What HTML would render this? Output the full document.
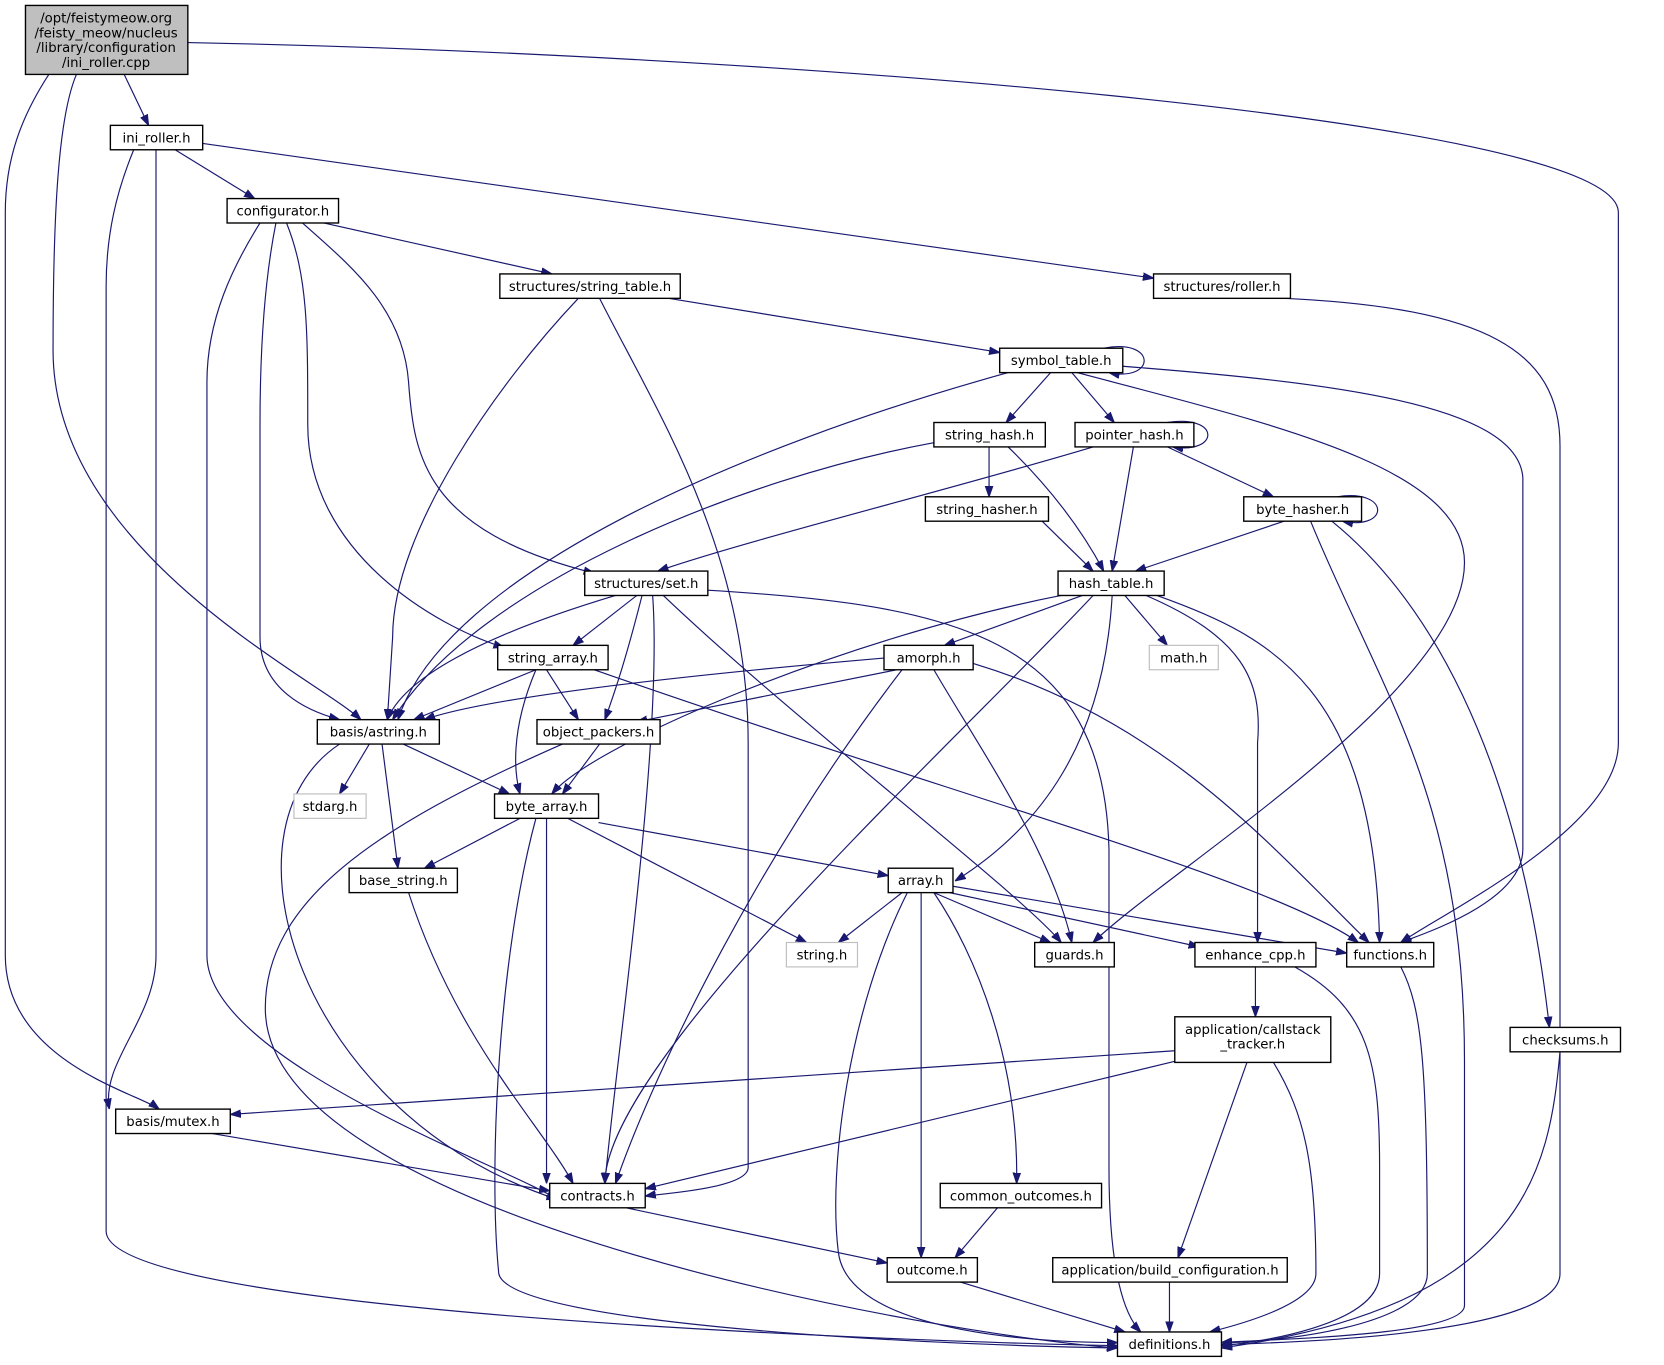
<!DOCTYPE html>
<html><head><meta charset="utf-8"><style>
html,body{margin:0;padding:0;background:#fff;}
svg{display:block;}
text{font-family:"DejaVu Sans","Liberation Sans",sans-serif;font-size:12.5px;fill:#000;}
.e{fill:none;stroke:#191970;stroke-width:1.1;}
.n{fill:#fff;stroke:#000;stroke-width:1.3;}
.g{fill:#fff;stroke:#bfbfbf;stroke-width:1.1;}
</style></head><body>
<svg width="1664" height="1365" viewBox="0 0 1568 1286" xmlns="http://www.w3.org/2000/svg">
<defs><marker id="a" viewBox="0 0 10 10" refX="10" refY="5" markerWidth="10" markerHeight="10" markerUnits="userSpaceOnUse" orient="auto"><path d="M0,1.5 L10,5 L0,8.5 z" fill="#191970" stroke="#191970"/></marker></defs>
<g marker-end="url(#a)">
<path class="e" d="M117,70 L140,118"/>
<path class="e" d="M177,40 C700,50 1525,110 1525,200 L1525,700 C1525,780 1360,860 1320,888"/>
<path class="e" d="M72,70 C55,110 50,200 50,330 C50,520 300,640 340,678"/>
<path class="e" d="M46,70 C20,110 5,150 5,200 L5,900 C5,1000 130,1030 150,1045"/>
<path class="e" d="M165,141 L240,187"/>
<path class="e" d="M191,135 L1087,262"/>
<path class="e" d="M126,141 C110,180 100,220 100,270 L100,1160 C100,1240 900,1265 1053,1268"/>
<path class="e" d="M147,141 L147,900 C147,960 95,1000 103,1045"/>
<path class="e" d="M305,210 L520,258"/>
<path class="e" d="M285,210 C330,250 380,290 385,360 C390,430 400,500 560,540"/>
<path class="e" d="M270,210 C290,260 290,310 290,400 C290,520 410,590 475,610"/>
<path class="e" d="M260,210 C250,260 245,320 245,400 L245,600 C245,650 290,670 320,678"/>
<path class="e" d="M245,210 C220,250 195,300 195,360 L195,900 C195,1000 480,1100 525,1130"/>
<path class="e" d="M545,281 C470,360 370,500 370,600 L365,678"/>
<path class="e" d="M565,281 C620,390 705,520 705,700 L705,1100 C705,1120 620,1125 608,1127"/>
<path class="e" d="M630,281 L942,332"/>
<path class="e" d="M1210,281 C1400,290 1470,330 1470,420 L1470,1200 C1470,1260 1200,1265 1151,1267"/>
<path class="e" d="M1040,328 C1090,318 1090,360 1045,351"/>
<path class="e" d="M990,351 L948,398"/>
<path class="e" d="M1010,351 L1050,398"/>
<path class="e" d="M950,351 C700,420 420,540 375,678"/>
<path class="e" d="M1015,351 C1200,400 1380,440 1380,530 C1380,650 1100,820 1030,888"/>
<path class="e" d="M1058,345 C1250,360 1430,380 1435,450 L1435,800 C1435,850 1340,880 1320,888"/>
<path class="e" d="M880,417 C700,450 450,550 370,678"/>
<path class="e" d="M932,421 L932,468"/>
<path class="e" d="M950,421 C990,460 1020,500 1040,538"/>
<path class="e" d="M1100,398 C1150,390 1150,428 1105,421"/>
<path class="e" d="M1030,421 C900,460 700,510 620,538"/>
<path class="e" d="M1068,421 L1048,538"/>
<path class="e" d="M1100,421 L1200,468"/>
<path class="e" d="M982,491 L1030,538"/>
<path class="e" d="M1260,468 C1310,460 1310,500 1265,491"/>
<path class="e" d="M1210,491 L1070,538"/>
<path class="e" d="M1235,491 C1300,650 1380,750 1380,1000 L1380,1230 C1380,1260 1180,1262 1151,1265"/>
<path class="e" d="M1255,491 C1340,560 1430,700 1460,968"/>
<path class="e" d="M1020,561 L890,608"/>
<path class="e" d="M1060,561 L1100,608"/>
<path class="e" d="M1000,561 C800,600 560,700 520,748"/>
<path class="e" d="M1030,561 C900,700 570,1000 570,1115"/>
<path class="e" d="M1048,561 C1040,700 980,780 900,830"/>
<path class="e" d="M1080,561 C1170,600 1190,640 1185,700 L1185,888"/>
<path class="e" d="M1090,561 C1200,600 1295,650 1300,888"/>
<path class="e" d="M600,561 L540,608"/>
<path class="e" d="M580,561 C450,600 380,640 365,678"/>
<path class="e" d="M605,561 C590,620 580,650 570,678"/>
<path class="e" d="M615,561 C625,700 580,1000 570,1115"/>
<path class="e" d="M625,561 C750,680 960,840 1000,888"/>
<path class="e" d="M667,556 C900,570 1040,600 1045,800 L1045,1100 C1045,1200 1060,1240 1075,1255"/>
<path class="e" d="M505,631 L390,678"/>
<path class="e" d="M515,631 L545,678"/>
<path class="e" d="M505,631 C480,690 485,730 490,748"/>
<path class="e" d="M560,631 C900,750 1200,830 1280,888"/>
<path class="e" d="M833,620 C600,640 450,660 400,678"/>
<path class="e" d="M845,631 L600,680"/>
<path class="e" d="M850,631 C720,800 620,1000 580,1115"/>
<path class="e" d="M880,631 C920,700 990,800 1010,888"/>
<path class="e" d="M917,625 C1100,680 1200,800 1290,888"/>
<path class="e" d="M348,701 L320,748"/>
<path class="e" d="M380,701 L480,748"/>
<path class="e" d="M360,701 L375,818"/>
<path class="e" d="M320,701 C200,780 280,1050 525,1130"/>
<path class="e" d="M530,701 C350,780 250,850 250,950 C250,1150 900,1260 1053,1270"/>
<path class="e" d="M565,701 L530,748"/>
<path class="e" d="M490,771 L400,818"/>
<path class="e" d="M564,775 L837,825"/>
<path class="e" d="M535,771 L760,888"/>
<path class="e" d="M515,771 L515,1115"/>
<path class="e" d="M505,771 C470,900 460,1100 470,1200 C480,1250 900,1268 1053,1270"/>
<path class="e" d="M385,841 C430,980 510,1060 540,1115"/>
<path class="e" d="M850,841 L790,888"/>
<path class="e" d="M880,841 L990,888"/>
<path class="e" d="M895,841 L1130,892"/>
<path class="e" d="M898,835 L1269,898"/>
<path class="e" d="M868,841 L868,1185"/>
<path class="e" d="M880,841 C920,900 960,1000 958,1115"/>
<path class="e" d="M855,841 C800,950 780,1100 790,1180 C800,1260 1000,1265 1053,1265"/>
<path class="e" d="M1183,911 L1183,958"/>
<path class="e" d="M1220,911 C1290,950 1300,1000 1300,1100 L1300,1200 C1300,1250 1180,1265 1151,1268"/>
<path class="e" d="M1320,911 C1340,950 1345,1000 1345,1200 C1345,1250 1200,1265 1151,1265"/>
<path class="e" d="M1470,991 C1460,1100 1440,1230 1151,1270"/>
<path class="e" d="M1107,990 L217,1050"/>
<path class="e" d="M1107,1000 L608,1120"/>
<path class="e" d="M1175,1001 L1110,1185"/>
<path class="e" d="M1200,1001 C1230,1050 1240,1100 1240,1200 C1240,1230 1160,1250 1140,1255"/>
<path class="e" d="M200,1068 L518,1122"/>
<path class="e" d="M590,1138 L836,1190"/>
<path class="e" d="M940,1138 L900,1185"/>
<path class="e" d="M905,1208 L1060,1255"/>
<path class="e" d="M1102,1208 L1102,1255"/>
</g>
<rect x="24" y="5" width="153" height="65" fill="#bfbfbf" stroke="#000" stroke-width="1.3"/>
<text x="100" y="21" text-anchor="middle">/opt/feistymeow.org</text>
<text x="100" y="35" text-anchor="middle">/feisty_meow/nucleus</text>
<text x="100" y="49" text-anchor="middle">/library/configuration</text>
<text x="100" y="63" text-anchor="middle">/ini_roller.cpp</text>
<g>
<rect class="n" x="104" y="118" width="87" height="23"/><text x="147.5" y="134" text-anchor="middle">ini_roller.h</text>
<rect class="n" x="214" y="187" width="105" height="23"/><text x="266.5" y="203" text-anchor="middle">configurator.h</text>
<rect class="n" x="471" y="258" width="170" height="23"/><text x="556" y="274" text-anchor="middle">structures/string_table.h</text>
<rect class="n" x="1087" y="258" width="129" height="23"/><text x="1151.5" y="274" text-anchor="middle">structures/roller.h</text>
<rect class="n" x="942" y="328" width="116" height="23"/><text x="1000" y="344" text-anchor="middle">symbol_table.h</text>
<rect class="n" x="880" y="398" width="105" height="23"/><text x="932.5" y="414" text-anchor="middle">string_hash.h</text>
<rect class="n" x="1013" y="398" width="112" height="23"/><text x="1069" y="414" text-anchor="middle">pointer_hash.h</text>
<rect class="n" x="872" y="468" width="116" height="23"/><text x="930" y="484" text-anchor="middle">string_hasher.h</text>
<rect class="n" x="1172" y="468" width="111" height="23"/><text x="1227.5" y="484" text-anchor="middle">byte_hasher.h</text>
<rect class="n" x="997" y="538" width="100" height="23"/><text x="1047" y="554" text-anchor="middle">hash_table.h</text>
<rect class="n" x="551" y="538" width="116" height="23"/><text x="609" y="554" text-anchor="middle">structures/set.h</text>
<rect class="n" x="469" y="608" width="104" height="23"/><text x="521" y="624" text-anchor="middle">string_array.h</text>
<rect class="n" x="833" y="608" width="84" height="23"/><text x="875" y="624" text-anchor="middle">amorph.h</text>
<rect class="g" x="1083" y="608" width="65" height="23"/><text x="1115.5" y="624" text-anchor="middle">math.h</text>
<rect class="n" x="299" y="678" width="115" height="23"/><text x="356.5" y="694" text-anchor="middle">basis/astring.h</text>
<rect class="n" x="506" y="678" width="116" height="23"/><text x="564" y="694" text-anchor="middle">object_packers.h</text>
<rect class="g" x="277" y="748" width="68" height="23"/><text x="311" y="764" text-anchor="middle">stdarg.h</text>
<rect class="n" x="466" y="748" width="98" height="23"/><text x="515" y="764" text-anchor="middle">byte_array.h</text>
<rect class="n" x="329" y="818" width="102" height="23"/><text x="380" y="834" text-anchor="middle">base_string.h</text>
<rect class="n" x="837" y="818" width="61" height="23"/><text x="867.5" y="834" text-anchor="middle">array.h</text>
<rect class="g" x="741" y="888" width="67" height="23"/><text x="774.5" y="904" text-anchor="middle">string.h</text>
<rect class="n" x="975" y="888" width="75" height="23"/><text x="1012.5" y="904" text-anchor="middle">guards.h</text>
<rect class="n" x="1126" y="888" width="114" height="23"/><text x="1183" y="904" text-anchor="middle">enhance_cpp.h</text>
<rect class="n" x="1269" y="888" width="82" height="23"/><text x="1310" y="904" text-anchor="middle">functions.h</text>
<rect class="n" x="1423" y="968" width="104" height="23"/><text x="1475" y="984" text-anchor="middle">checksums.h</text>
<rect class="n" x="1107" y="958" width="147" height="43"/><text x="1180.5" y="974" text-anchor="middle">application/callstack</text><text x="1180.5" y="988" text-anchor="middle">_tracker.h</text>
<rect class="n" x="109" y="1045" width="108" height="23"/><text x="163" y="1061" text-anchor="middle">basis/mutex.h</text>
<rect class="n" x="518" y="1115" width="90" height="23"/><text x="563" y="1131" text-anchor="middle">contracts.h</text>
<rect class="n" x="886" y="1115" width="152" height="23"/><text x="962" y="1131" text-anchor="middle">common_outcomes.h</text>
<rect class="n" x="836" y="1185" width="85" height="23"/><text x="878.5" y="1201" text-anchor="middle">outcome.h</text>
<rect class="n" x="992" y="1185" width="221" height="23"/><text x="1102.5" y="1201" text-anchor="middle">application/build_configuration.h</text>
<rect class="n" x="1053" y="1255" width="98" height="23"/><text x="1102" y="1271" text-anchor="middle">definitions.h</text>
</g>
</svg>
</body></html>
